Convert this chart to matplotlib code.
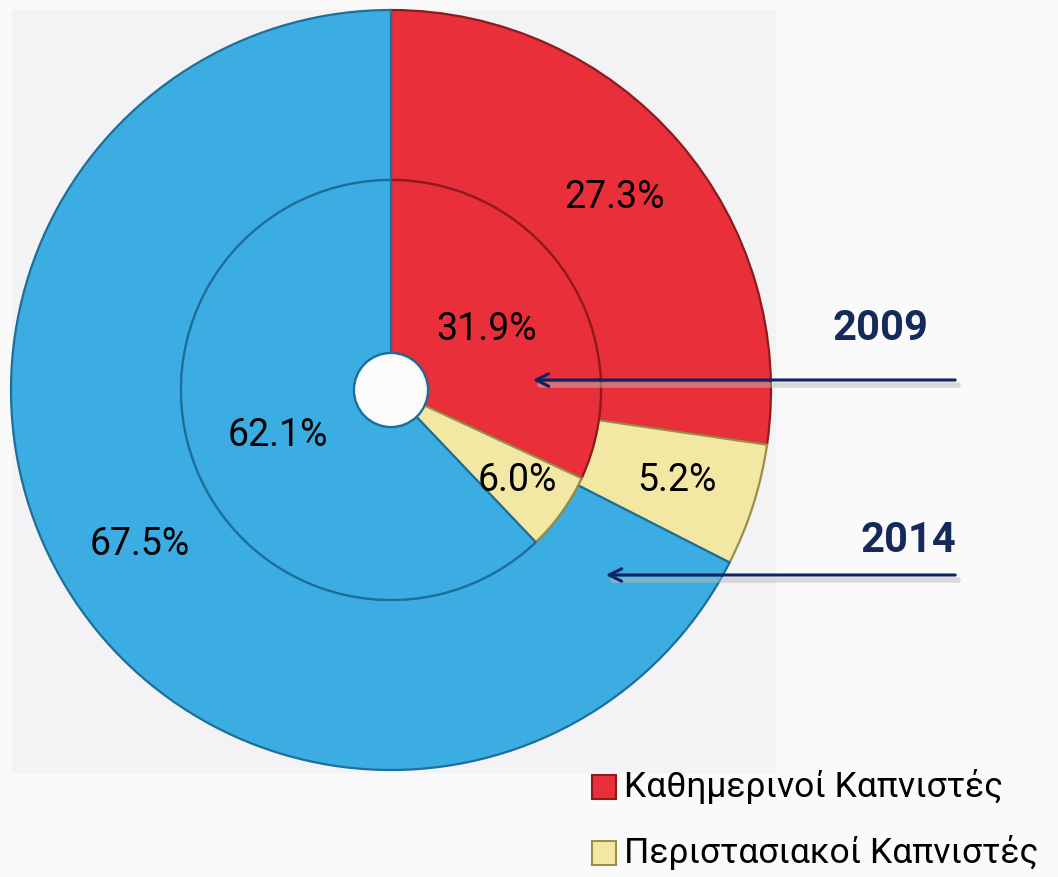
import matplotlib.pyplot as plt
from matplotlib.patches import Rectangle, Circle
import numpy as np

categories = ["Καθημερινοί Καπνιστές", "Περιστασιακοί Καπνιστές", "Μη καπνιστές"]
values_2014 = [27.3, 5.2, 67.5]   # outer ring
values_2009 = [31.9, 6.0, 62.1]   # inner ring
years = ["2009", "2014"]

colors = ["#e9303a", "#f2e7a3", "#3badE2"]
edges = ["#8c1a1f", "#9c8d4c", "#1d6f99"]

W, H = 1058, 877
fig = plt.figure(figsize=(W / 100, H / 100), dpi=100, facecolor="#fafafa")
ax = fig.add_axes([0, 0, 1, 1])

ax.add_patch(Rectangle((12, H - 772), 763, 762, color="#f3f3f5", zorder=0))

cx, cy = 391, H - 390
R_out, R_in, R_hole = 380, 210, 37

font = ["Roboto", "DejaVu Sans"]

def ring(vals, r, width, label_r):
    wedges, _ = ax.pie(vals, radius=r, center=(cx, cy), startangle=90,
                       counterclock=False, colors=colors,
                       wedgeprops=dict(width=width, linewidth=1.6),
                       frame=True)
    for w, e in zip(wedges, edges):
        w.set_edgecolor(e)
        w.set_zorder(2)
    for w, v, lr in zip(wedges, vals, label_r):
        th = np.deg2rad((w.theta1 + w.theta2) / 2)
        ax.text(cx + lr * np.cos(th), cy + lr * np.sin(th), f"{v:.1f}%",
                ha="center", va="center", fontsize=27, family=font, zorder=5)
    return wedges

ring(values_2014, R_out, R_out - R_in, [295, 300, 295])
ring(values_2009, R_in, R_in - R_hole, [113, 156, 122])
ax.add_patch(Circle((cx, cy), R_hole, facecolor="#fbfbfb", edgecolor="#1d6f99",
                    lw=1.6, zorder=3))

ax.set_xlim(0, W)
ax.set_ylim(0, H)
ax.set_aspect("equal")
ax.axis("off")

navy = "#15295a"
arrow_y = [H - 380, H - 575]
arrow_end = [530, 603]
label_xy = [(880, H - 328), (908, H - 540)]
for yr, ay, ae, (lx, ly) in zip(years, arrow_y, arrow_end, label_xy):
    ax.plot([ae + 10, 958], [ay - 5, ay - 5], color="#bbbbbb", lw=4, alpha=0.5,
            solid_capstyle="round", zorder=3)
    ax.annotate("", xy=(ae, ay), xytext=(958, ay),
                arrowprops=dict(arrowstyle="->,head_length=0.9,head_width=0.45",
                                color="#0c2466", lw=2.2), zorder=6)
    ax.text(lx, ly, yr, ha="center", va="center", fontsize=30,
            fontweight="bold", color=navy, family=font, zorder=6)

leg_y = [H - 787, H - 853]
for c, e, name, ly in zip(colors[:2], edges[:2], categories[:2], leg_y):
    ax.add_patch(Rectangle((592, ly - 12), 24, 24, facecolor=c, edgecolor=e,
                           lw=1.5, zorder=5))
    ax.text(624, ly, name, ha="left", va="center", fontsize=25.5,
            family=font, zorder=5)

fig.savefig("out.png", dpi=100, facecolor=fig.get_facecolor())
